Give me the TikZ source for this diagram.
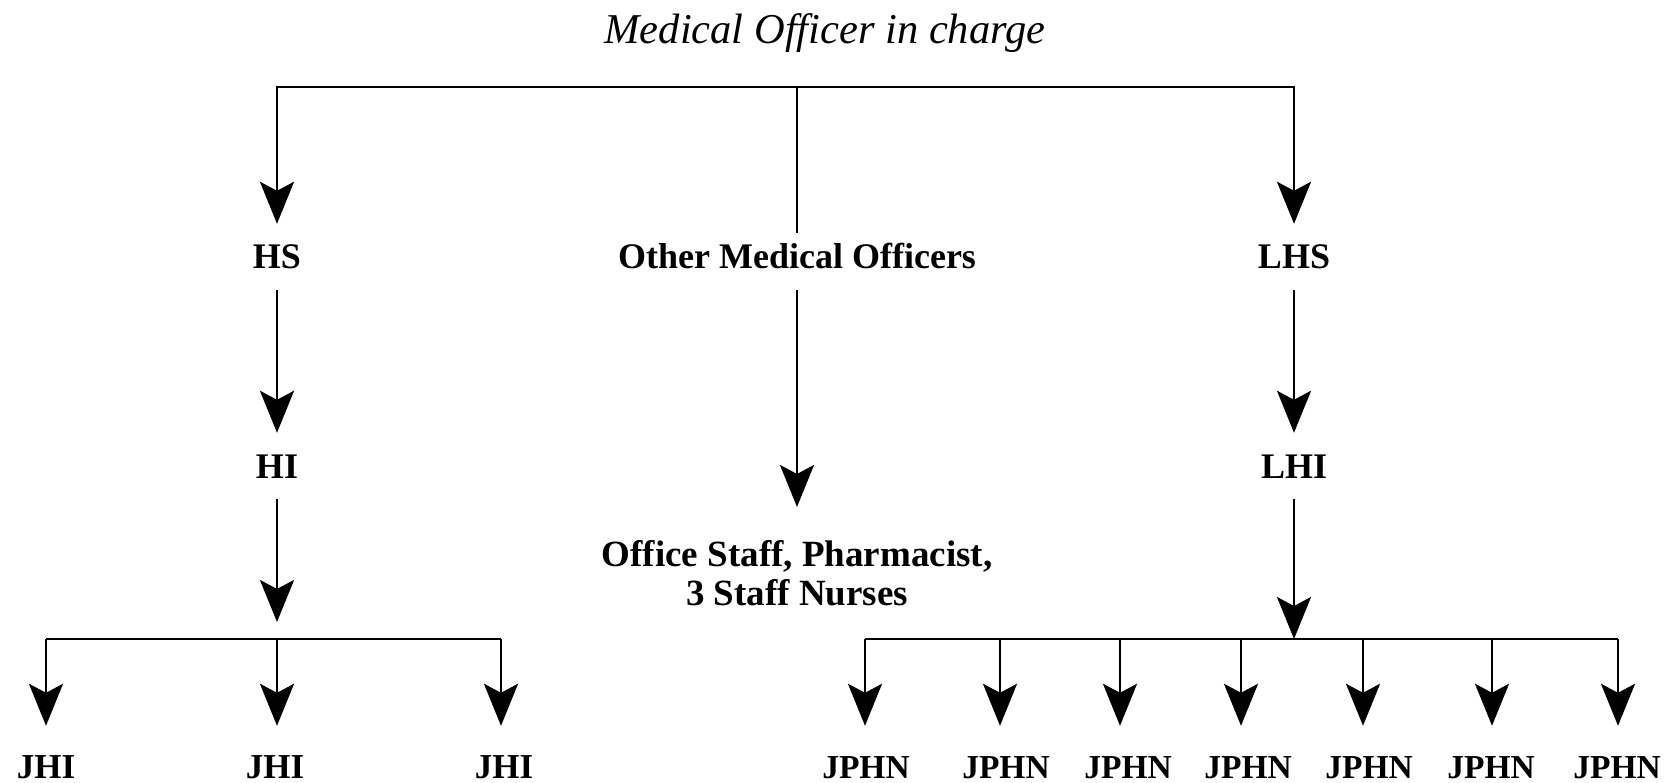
\documentclass[tikz,border=0pt]{standalone}
\usepackage{fontspec}
\setmainfont{Liberation Serif}
\usetikzlibrary{arrows.meta}
\begin{document}
\begin{tikzpicture}[x=1pt,y=-1pt,
  wire/.style={line width=2.6pt},
  arr/.style={wire,-{Stealth[length=42pt,width=34pt,inset=9pt]}},
  lbl/.style={font=\bfseries\fontsize{36}{39}\selectfont,inner sep=0pt,
    text height=24pt,text depth=0pt,minimum height=66pt},
  leaf/.style={font=\bfseries\fontsize{35}{39}\selectfont,inner sep=0pt,
    text height=24pt,text depth=0pt,minimum height=80pt},
  headlbl/.style={font=\itshape\fontsize{42.5}{46}\selectfont,inner sep=0pt,
    text height=28pt,text depth=0pt}]
\useasboundingbox (0,0) rectangle (1673,783);

% head of the chart
\node[headlbl] (mo) at (825,30) {Medical Officer in charge};
\coordinate (top) at (797,87);

% second level
\node[lbl] (hs)  at (277,257)  {HS};
\node[lbl] (omo) at (797,257)  {Other Medical Officers};
\node[lbl] (lhs) at (1294,257) {LHS};

% third level
\node[lbl] (hi)  at (277,466)  {HI};
\node[lbl] (lhi) at (1294,466) {LHI};
\node[font=\bfseries\fontsize{37}{39}\selectfont,align=center,inner sep=0pt,anchor=north]
  (staff) at (797,540) {Office Staff, Pharmacist,\\3 Staff Nurses};

% top branching
\draw[arr] (top) -| (hs.north);
\draw[arr] (top) -| (lhs.north);
\draw[wire] (top) -- ([yshift=-9pt]omo.north);

% vertical chains
\draw[arr] (hs.south) -- (hi.north);
\draw[arr] (lhs.south) -- (lhi.north);
\draw[arr,shorten >=33pt] (omo.south) -- (omo.south |- staff.north);

% left bar with JHI
\coordinate (lb1) at (46,639);
\coordinate (lb2) at (277,639);
\coordinate (lb3) at (501,639);
\draw[arr,shorten >=17pt] (hi.south) -- (lb2);
\draw[wire] (lb1) -- (lb3);
\node[leaf] (jhi1) at (46,766)  {JHI};
\node[leaf] (jhi2) at (275,766) {JHI};
\node[leaf] (jhi3) at (504,766) {JHI};
\foreach \i in {1,2,3}
  \draw[arr] (lb\i) -- (lb\i |- jhi\i.north);

% right bar with JPHN
\coordinate (rbar) at (1294,639);
\draw[arr] (lhi.south) -- (rbar);
\foreach \i/\ax/\tx in {1/865/866,2/1000/1006,3/1120/1128,4/1241/1248,5/1363/1369,6/1492/1491,7/1618/1617}{
  \coordinate (rb\i) at (\ax,639);
  \node[leaf,font=\bfseries\fontsize{33.5}{39}\selectfont] (jphn\i) at (\tx,766) {JPHN};
  \draw[arr] (rb\i) -- (rb\i |- jphn\i.north);
}
\draw[wire] (rb1) -- (rb7);
\end{tikzpicture}
\end{document}
